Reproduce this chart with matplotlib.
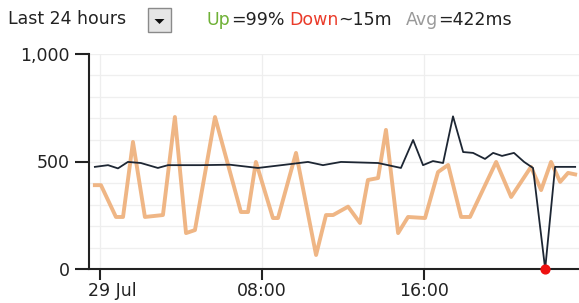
import matplotlib
matplotlib.use("Agg")
import matplotlib.pyplot as plt
from matplotlib.patches import Rectangle, Polygon
from matplotlib.transforms import ScaledTranslation

plt.rcParams['font.family'] = ['DejaVu Sans']

# hours since 29 Jul 00:00
orange_t = [-0.25, 0.05, 0.79, 1.14, 1.63, 2.22, 3.11, 3.70, 4.25, 4.69, 5.68,
            6.96, 7.31, 7.70, 8.54, 8.79, 9.68, 10.67, 11.16, 11.51, 12.25,
            12.84, 13.23, 13.73, 14.12, 14.72, 15.21, 16.05, 16.69, 17.19,
            17.83, 18.27, 19.56, 20.30, 21.28, 21.78, 22.27, 22.72, 23.11, 23.46]
orange_v = [390, 390, 242, 242, 591, 242, 251, 707, 167, 181, 707,
            265, 265, 498, 237, 237, 540, 65, 251, 251, 290,
            214, 414, 423, 647, 167, 242, 237, 451, 484,
            242, 242, 498, 335, 475, 367, 498, 405, 447, 440]

dark_t = [-0.25, 0.40, 0.89, 1.38, 2.02, 2.86, 3.36, 4.94, 6.42, 7.80, 9.14,
          10.27, 11.01, 11.90, 13.73, 14.86, 15.46, 15.95, 16.44, 16.94, 17.43,
          17.93, 18.42, 19.01, 19.41, 19.85, 20.44, 20.94, 21.38, 21.98, 22.47, 23.46]
dark_v = [475, 483, 468, 498, 493, 470, 483, 483, 485, 470, 485,
          498, 483, 498, 493, 470, 600, 483, 502, 493, 710,
          544, 540, 512, 540, 526, 540, 498, 470, 0, 475, 475]

down_t = [21.98]
down_v = [0]

y_ticks = [0, 500, 1000]
y_labels = ['0', '500', '1,000']
x_ticks = [0, 8, 16]
x_labels = ['29 Jul', '08:00', '16:00']

W, H = 579, 303
fig = plt.figure(figsize=(W / 100, H / 100), dpi=100)
fig.patch.set_facecolor('white')

def fx(px):
    return px / W

def fy(py):
    return 1 - py / H

ax = fig.add_axes([fx(89), fy(269), fx(579) - fx(89), fy(54) - fy(269)])
ax.set_xlim(-0.54, 23.65)
ax.set_ylim(0, 1000)

for v in range(100, 1001, 100):
    ax.axhline(v, color='#efefef', lw=0.9, zorder=0)
for t in x_ticks:
    ax.axvline(t, color='#eeeeee', lw=0.9, zorder=0)

ax.plot(orange_t, orange_v, color='#eeae78', lw=2.8, alpha=0.9,
        solid_joinstyle='round', zorder=2)
ax.plot(dark_t, dark_v, color='#1d2633', lw=1.3, zorder=3)
ax.scatter(down_t, down_v, s=40, color='#ee1111', zorder=4, clip_on=False)

for s in ['top', 'right']:
    ax.spines[s].set_visible(False)
for s in ['left', 'bottom']:
    ax.spines[s].set_color('#222222')
    ax.spines[s].set_linewidth(1.5)

ax.set_yticks(y_ticks)
ax.set_yticklabels(y_labels)
ax.set_xticks(x_ticks)
ax.set_xticklabels(x_labels)
tfs = 12.5
ax.tick_params(axis='y', length=10, width=1.5, color='#222222', pad=4,
               labelsize=tfs, labelcolor='#222222')
ax.tick_params(axis='x', length=8, width=1.5, color='#222222', pad=1,
               labelsize=tfs, labelcolor='#222222')
lbl = ax.get_xticklabels()[0]
lbl.set_horizontalalignment('left')
lbl.set_transform(lbl.get_transform() + ScaledTranslation(-0.12, 0, fig.dpi_scale_trans))

# header
fs = 12.5
fig.text(fx(8), fy(19), 'Last 24 hours', fontsize=fs, color='#222222', va='center', ha='left')
fig.patches.append(Rectangle((fx(148), fy(32)), fx(23), fy(8) - fy(32),
                             transform=fig.transFigure, facecolor='#e6e6e6',
                             edgecolor='#8a8a8a', lw=1.0))
fig.patches.append(Polygon([(fx(154.5), fy(19)), (fx(164.5), fy(19)), (fx(159.5), fy(24))],
                           closed=True, transform=fig.transFigure,
                           facecolor='#111111', edgecolor='none'))

parts = [('Up', '#6fb136', 0), ('=99%', '#222222', 0),
         ('Down', '#ea3b2a', 5), ('~15m', '#222222', 0),
         ('Avg', '#9a9a9a', 14), ('=422ms', '#222222', 0)]
renderer = fig.canvas.get_renderer()
x = 207
for s, c, gap in parts:
    x += gap
    t = fig.text(fx(x), fy(20), s, fontsize=fs, color=c, va='center', ha='left')
    x += t.get_window_extent(renderer).width

fig.savefig('out.png', dpi=100, facecolor='white')
